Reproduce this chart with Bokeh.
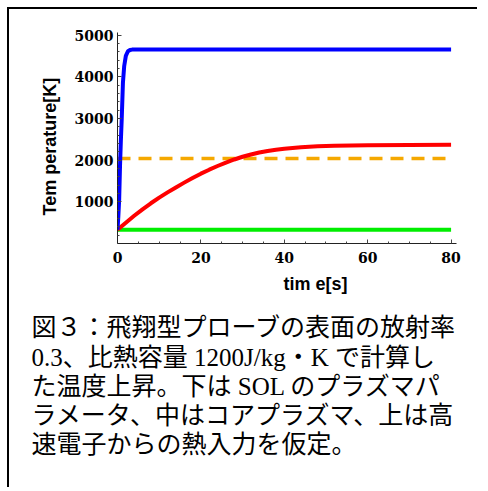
from bokeh.plotting import figure
from bokeh.models import Range1d, FixedTicker, Title
from bokeh.embed import file_html
from bokeh.resources import INLINE

# ---- data ----
blue_t = [0, 0.2, 0.4, 0.6, 0.8, 1.0, 1.3, 1.6, 2.0, 2.5, 3.0, 3.5, 80]
blue_T = [330, 650, 1050, 1850, 2450, 2950, 3850, 4250, 4500, 4610, 4640, 4650, 4650]

red_t = [0, 2, 4, 6, 8, 10, 12, 14, 16, 18, 20, 22, 24, 26, 28, 30, 32, 34, 36, 38,
         40, 44, 48, 52, 56, 60, 70, 80]
red_T = [330, 500, 665, 820, 965, 1100, 1225, 1345, 1460, 1570, 1675, 1770, 1858, 1940,
         2015, 2080, 2135, 2182, 2220, 2250, 2274, 2308, 2330, 2344, 2352, 2357, 2364, 2367]

green_t = [0, 80]
green_T = [330, 330]

limit_t = [0, 80]
limit_T = [2040, 2040]

x_ticks = [0, 20, 40, 60, 80]
x_minor = [5, 10, 15, 25, 30, 35, 45, 50, 55, 65, 70, 75]
y_ticks = [1000, 2000, 3000, 4000, 5000]
y_minor = [200, 400, 600, 800, 1200, 1400, 1600, 1800, 2200, 2400, 2600, 2800,
           3200, 3400, 3600, 3800, 4200, 4400, 4600, 4800]

x_title = "tim e[s]"
y_title = "Tem perature[K]"

caption_lines = [
    "図３：飛翔型プローブの表面の放射率",
    "0.3、比熱容量 1200J/kg・K で計算し",
    "た温度上昇。下は SOL のプラズマパ",
    "ラメータ、中はコアプラズマ、上は高",
    "速電子からの熱入力を仮定。",
]

# ---- chart ----
p = figure(width=470, height=480,
           x_range=Range1d(0, 81.3), y_range=Range1d(0, 5060),
           output_backend="svg", toolbar_location=None,
           min_border_left=108, min_border_right=23,
           min_border_top=23, min_border_bottom=246)
p.grid.visible = False
p.outline_line_color = None
p.background_fill_color = "white"
p.border_fill_color = "white"
p.styles = {"border-left": "2px solid black", "border-top": "2px solid black",
            "margin-left": "7px", "margin-top": "7px"}

p.line(limit_t, limit_T, line_color="#F5A800", line_width=3.5, line_dash="13 8")
p.line(green_t, green_T, line_color="#00EE00", line_width=4)
p.line(red_t, red_T, line_color="#FF0000", line_width=4, line_join="round")
p.line(blue_t, blue_T, line_color="#0000FF", line_width=4, line_join="round")

p.xaxis.ticker = FixedTicker(ticks=x_ticks, minor_ticks=x_minor)
p.yaxis.ticker = FixedTicker(ticks=y_ticks, minor_ticks=y_minor)
for ax in (p.xaxis[0], p.yaxis[0]):
    ax.axis_line_color = "#222222"
    ax.axis_line_width = 1
    ax.major_tick_in = 4
    ax.major_tick_out = 0
    ax.minor_tick_in = 2
    ax.minor_tick_out = 0
    ax.major_tick_line_color = "#444444"
    ax.minor_tick_line_color = "#444444"
    ax.major_label_text_font = "DejaVu Serif"
    ax.major_label_text_font_style = "bold"
    ax.major_label_text_font_size = "14px"
    ax.major_label_text_color = "black"
p.xaxis.major_label_standoff = 8
p.yaxis.major_label_standoff = 4

p.add_layout(Title(text=y_title, align="left", offset=28, standoff=24,
                   text_font="Liberation Sans", text_font_style="bold",
                   text_font_size="18px", text_color="black"), "left")
p.add_layout(Title(text=x_title, align="left", offset=166, standoff=13,
                   text_font="Liberation Sans", text_font_style="bold",
                   text_font_size="18px", text_color="black"), "below")
p.add_layout(Title(text="\n".join(caption_lines), align="left", offset=-86, standoff=23,
                   text_font="'Liberation Serif', 'Noto Sans CJK JP'",
                   text_font_style="normal", text_font_size="25px",
                   text_line_height=1.08, text_color="black"), "below")

open("out.html", "w").write(file_html(p, INLINE))
